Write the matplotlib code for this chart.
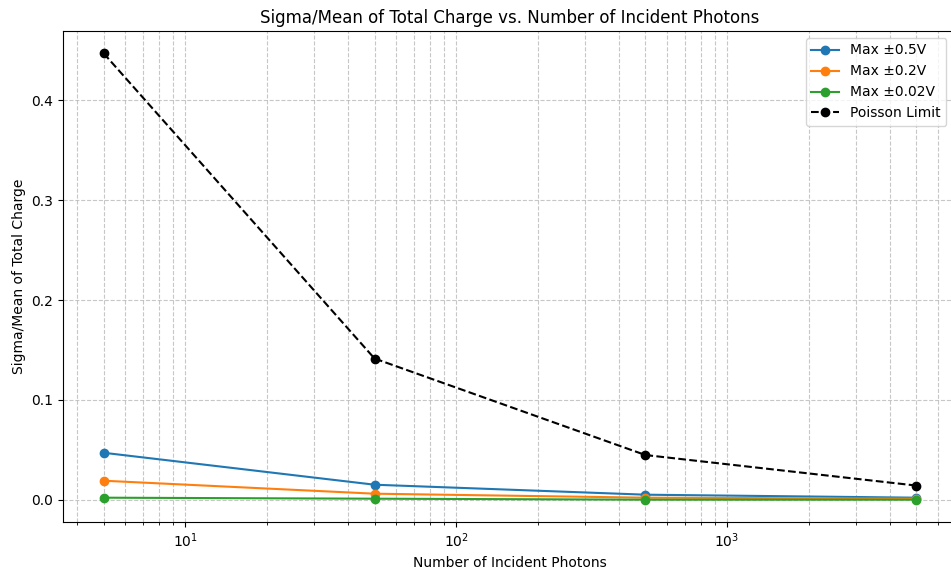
import matplotlib
matplotlib.use("Agg")
import matplotlib.pyplot as plt
import numpy as np

# Number of incident photons
photons = [5, 50, 500, 5000]

# Sigma/mean of total charge for each voltage range
max_05v = [0.047, 0.015, 0.005, 0.002]
max_02v = [0.019, 0.006, 0.002, 0.001]
max_002v = [0.002, 0.001, 0.0, 0.0]
poisson = [1 / np.sqrt(n) for n in photons]

fig = plt.figure(figsize=(9.51, 5.69), dpi=100)
ax = fig.add_axes([63 / 951, 47 / 569, 894 / 951, 491 / 569])

ax.plot(photons, max_05v, marker="o", label="Max ±0.5V")
ax.plot(photons, max_02v, marker="o", label="Max ±0.2V")
ax.plot(photons, max_002v, marker="o", label="Max ±0.02V")
ax.plot(photons, poisson, "k--", marker="o", label="Poisson Limit")

ax.set_xscale("log")
ax.set_xlabel("Number of Incident Photons")
ax.set_ylabel("Sigma/Mean of Total Charge")
ax.set_title("Sigma/Mean of Total Charge vs. Number of Incident Photons")
ax.grid(True, which="both", linestyle="--", alpha=0.7)
ax.legend(loc="upper right", bbox_to_anchor=(0.996, 1.0))

fig.savefig("out.png", dpi=100)
